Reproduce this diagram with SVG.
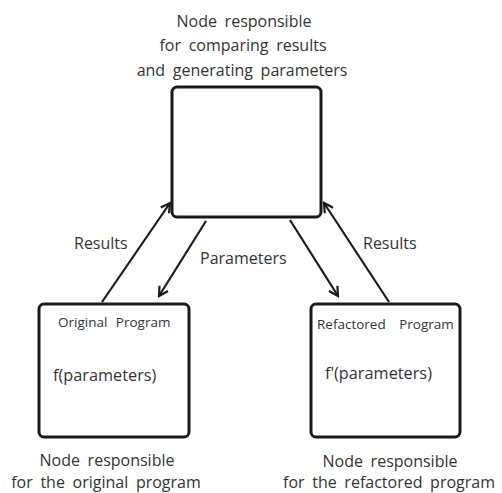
<svg xmlns="http://www.w3.org/2000/svg" width="502" height="493" viewBox="0 0 502 493">
  <defs>
    <style>
      .box { fill: #ffffff; stroke: #1a1a1a; stroke-width: 3; }
      .edge { fill: none; stroke: #1a1a1a; stroke-width: 2.2; marker-end: url(#head); }
      .lbl { font-family: "Open Sans", "Noto Sans", sans-serif; fill: #333333; }
      .cap { font-size: 16px; text-anchor: middle; word-spacing: 3.5px; }
      .elab { font-size: 16px; }
      .title { font-size: 13.5px; word-spacing: 5px; }
      .fn { font-size: 16.3px; }
    </style>
    <marker id="head" viewBox="0 0 12 12" refX="10" refY="6" markerWidth="12" markerHeight="12" markerUnits="userSpaceOnUse" orient="auto">
      <path d="M1,1 L10,6 L1,11" fill="none" stroke="#1a1a1a" stroke-width="2.2" stroke-linejoin="miter"/>
    </marker>
  </defs>
  <rect width="502" height="493" fill="#ffffff"/>

  <!-- central node: compares results, generates parameters -->
  <g id="node-compare">
    <rect class="box" x="172" y="87" width="149" height="130" rx="5"/>
    <text class="lbl cap" x="244" y="27">Node responsible</text>
    <text class="lbl cap" x="243" y="51">for comparing results</text>
    <text class="lbl cap" x="242" y="76">and generating parameters</text>
  </g>

  <!-- original program node -->
  <g id="node-original">
    <rect class="box" x="39" y="304" width="150" height="133" rx="5"/>
    <text class="lbl title" x="58" y="327">Original Program</text>
    <text class="lbl fn" x="53" y="381">f(parameters)</text>
    <text class="lbl cap" x="107" y="466">Node responsible</text>
    <text class="lbl cap" x="106" y="488">for the original program</text>
  </g>

  <!-- refactored program node -->
  <g id="node-refactored">
    <rect class="box" x="311" y="304" width="149" height="133" rx="5"/>
    <text class="lbl title" x="317" y="329" style="word-spacing: 10px">Refactored Program</text>
    <text class="lbl fn" x="325" y="379">f'(parameters)</text>
    <text class="lbl cap" x="390" y="467">Node responsible</text>
    <text class="lbl cap" x="389" y="488">for the refactored program</text>
  </g>

  <!-- connectors -->
  <g id="edges">
    <line class="edge" x1="102" y1="302" x2="170" y2="203"/>
    <line class="edge" x1="206" y1="221" x2="159" y2="296"/>
    <line class="edge" x1="290" y1="220" x2="338" y2="296"/>
    <line class="edge" x1="389" y1="302" x2="324" y2="203"/>
    <text class="lbl elab" x="74" y="249">Results</text>
    <text class="lbl elab" x="200" y="264">Parameters</text>
    <text class="lbl elab" x="363" y="249">Results</text>
  </g>
</svg>
